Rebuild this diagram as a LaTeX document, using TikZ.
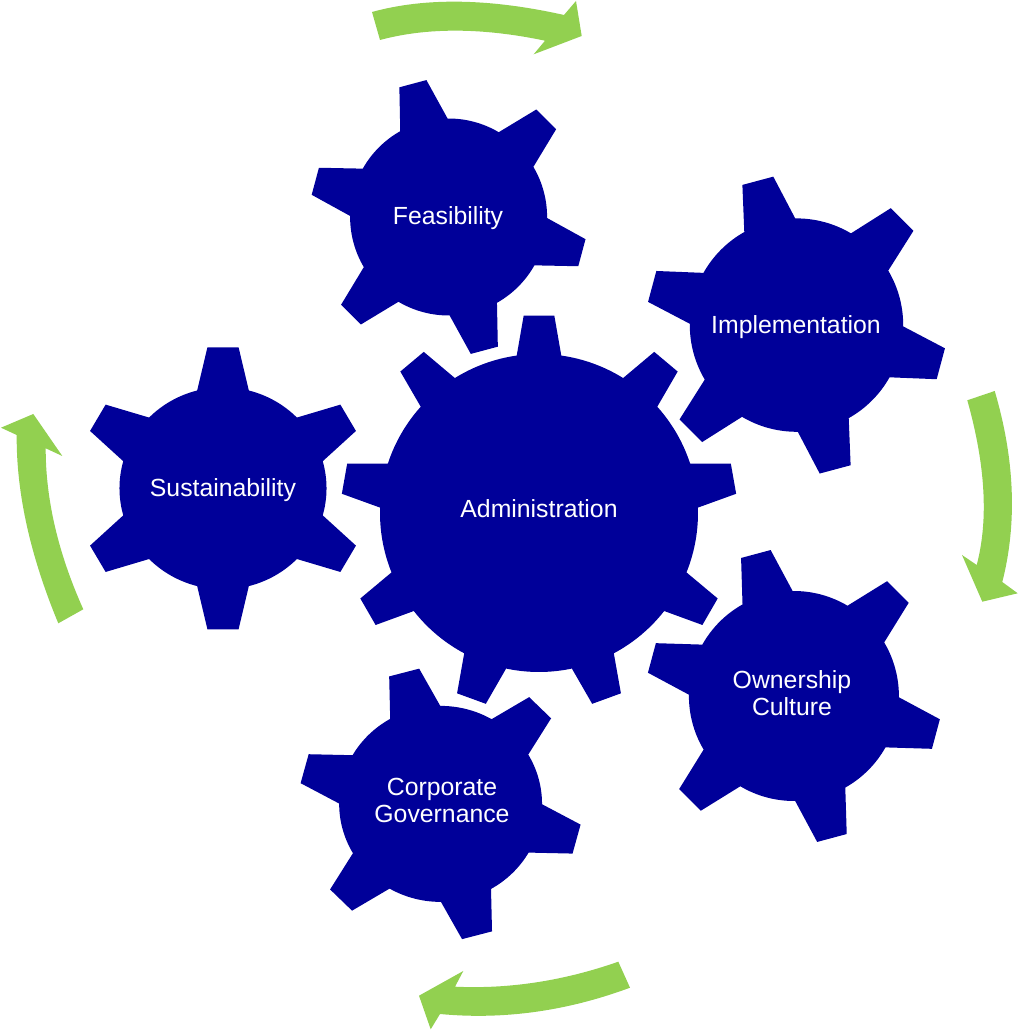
\documentclass[tikz,border=0pt]{standalone}
\usepackage{fontspec}
\setmainfont{Liberation Sans}
\definecolor{gearblue}{HTML}{000099}
\definecolor{arrowgreen}{HTML}{92D050}

\begin{document}
\begin{tikzpicture}[x=1pt,y=1pt,gearbody/.style={fill=gearblue},cyclearrow/.style={fill=arrowgreen},gearlabel/.style={text=white,align=center,inner sep=0pt,font=\fontsize{24.8}{27}\selectfont}]
    \useasboundingbox (0,0) rectangle (1018,1031);
    %
    % cx/cy/xscale/base radius/base half angle/tip radius/tip half width/teeth/first tooth
    \foreach \cx/\cy/\gx/\rb/\hb/\rt/\ht/\n/\st in {
        539/518/1/159/8.06/197.5/15.3/9/90,
        223/542.7/1.025/101/14.45/141/15.2/6/90,
        448.6/814/1/98.5/14.4/138/14/6/105,
        796.5/705.9/1/106.7/14.3/149.4/16/6/105,
        793.9/335/1/105/14.3/147/15.3/6/105,
        440.6/227.1/1.035/98/14.8/136/15/6/105}{
        \pgfmathsetmacro{\ta}{atan(\ht/\rt)}
        \pgfmathsetmacro{\rc}{veclen(\rt,\ht)}
        \pgfmathsetmacro{\gap}{360/\n}
        \begin{scope}[shift={(\cx,\cy)},xscale=\gx]
            \fill[gearbody] ({\st-\hb}:\rb)
                \foreach \k [evaluate=\k as \a using \st+(\k-1)*\gap] in {1,...,\n}{
                    -- ({\a-\hb}:\rb) -- ({\a-\ta}:\rc) -- ({\a+\ta}:\rc) -- ({\a+\hb}:\rb)
                    arc[start angle=\a+\hb,end angle=\a+\gap-\hb,radius=\rb]
                } -- cycle;
        \end{scope}
    }
    %
    \node[gearlabel](administration) at (539,522){Administration};
    \node[gearlabel](sustainability) at (223,541){Sustainability};
    \node[gearlabel](feasibility) at (448,813){Feasibility};
    \node[gearlabel](implementation) at (796,704){Implementation};
    \node[gearlabel](ownership) at (792,338){Ownership\\Culture};
    \node[gearlabel](governance) at (442,231){Corporate\\Governance};
    %
    % top
    \fill[cyclearrow] (372,1019) .. controls (425.3,1033.7) and (489.3,1032.7) .. (564,1016) -- (576,1030) -- (581.7,995) -- (533.7,976.7) -- (545,990.3) .. controls (482.3,1003.4) and (427.3,1003.7) .. (380,991) -- cycle;
    % right
    \fill[cyclearrow] (994.7,640) .. controls (1014.8,571.7) and (1017.3,508) .. (1002.3,449) -- (1017.7,437.7) -- (982.3,429.3) -- (962,476) -- (976.7,466) .. controls (988.6,511.1) and (985.5,566) .. (967.3,630.7) -- cycle;
    % bottom
    \fill[cyclearrow] (630,43.3) .. controls (566.7,19.8) and (503.3,11) .. (440,17) -- (430.7,1.7) -- (419,35.3) -- (463.3,60) -- (455,44.3) .. controls (509.4,41.8) and (563.9,50.2) .. (618.3,69.3) -- cycle;
    % left
    \fill[cyclearrow] (58.3,407.7) .. controls (30,475.9) and (16.2,538.7) .. (16.7,596) -- (1,603.3) -- (33.3,617) -- (62.3,575) -- (45.7,582.7) .. controls (45.6,531.6) and (58.1,477.9) .. (83.3,421.7) -- cycle;
    %
\end{tikzpicture}
\end{document}
